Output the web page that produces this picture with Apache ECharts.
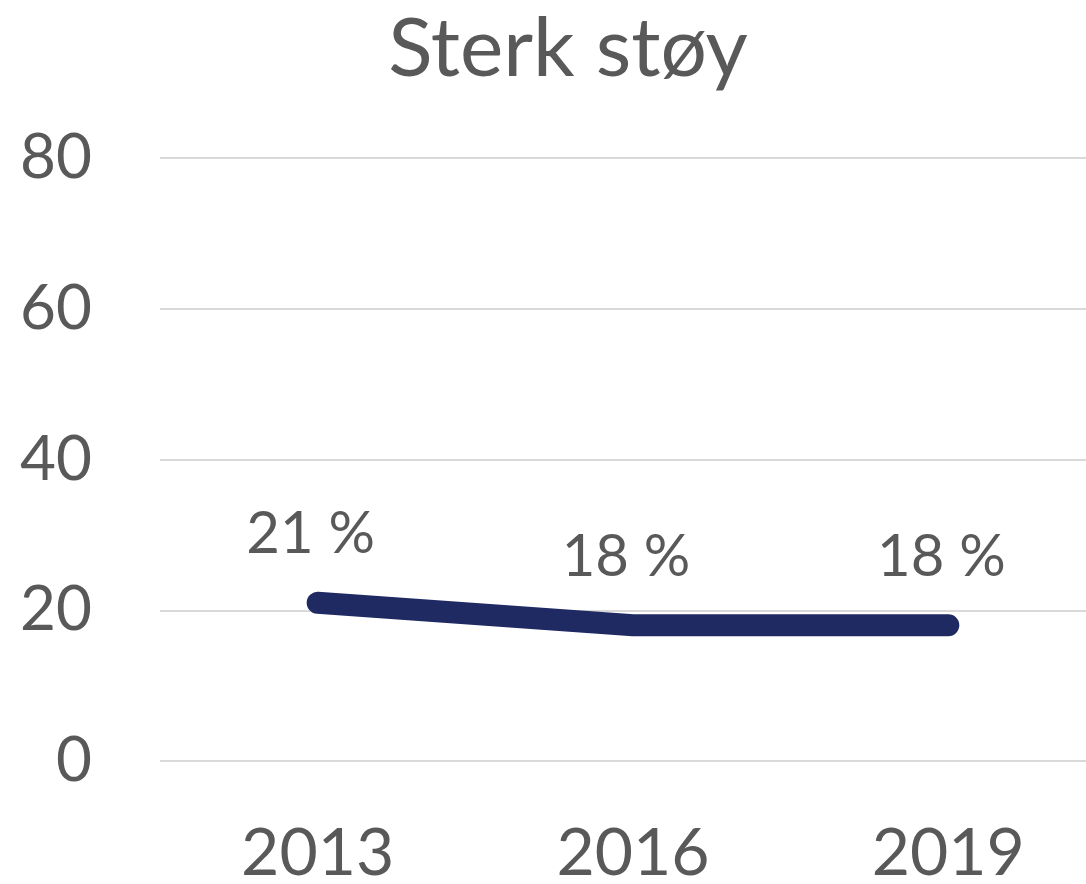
<!doctype html>
<html>
	<head>
		<meta charset="utf-8">
		<title>Sterk støy</title>
		<style>
			html, body { margin: 0; padding: 0; background: #fff; }
			#chart { width: 1086px; height: 884px; }
		</style>
	</head>
	<body>
		<div id="chart"></div>
		<script src="https://cdn.jsdelivr.net/npm/echarts@6/dist/echarts.min.js"></script>
		<script type="text/javascript">
			// data
			var years = ['2013', '2016', '2019'];
			var values = [21, 18, 18];
			var yTicks = [0, 20, 40, 60, 80];

			var font = 'Lato, "Open Sans", sans-serif';
			var grey = '#595959';
			var navy = '#1f2a63';

			var chart = echarts.init(document.getElementById('chart'));
			chart.setOption({
				animation: false,
				title: {
					text: 'Sterk støy',
					left: 563,
					top: 4,
					textAlign: 'center',
					textStyle: { fontFamily: font, fontSize: 82, fontWeight: 'normal', color: grey }
				},
				grid: {
					left: 160,
					top: 158,
					width: 946,
					height: 603,
					outerBoundsMode: 'none'
				},
				xAxis: {
					type: 'category',
					data: years,
					boundaryGap: true,
					axisLine: { show: false },
					axisTick: { show: false },
					axisLabel: { fontFamily: font, fontSize: 66, color: grey, margin: 60 }
				},
				yAxis: {
					type: 'value',
					min: yTicks[0],
					max: yTicks[yTicks.length - 1],
					interval: 20,
					axisLine: { show: false },
					axisTick: { show: false },
					splitLine: { lineStyle: { color: '#d9d9d9', width: 2 } },
					axisLabel: { fontFamily: font, fontSize: 62, color: grey, margin: 68 }
				},
				series: [{
					type: 'line',
					data: values,
					symbol: 'circle',
					symbolSize: 2,
					itemStyle: { color: navy },
					lineStyle: { color: navy, width: 22, cap: 'round', join: 'round' },
					label: {
						show: true,
						position: 'top',
						distance: 38,
						offset: [-7, 0],
						formatter: function (p) { return p.value + ' %'; },
						fontFamily: font,
						fontSize: 58,
						color: grey
					}
				}]
			});
		</script>
	</body>
</html>
